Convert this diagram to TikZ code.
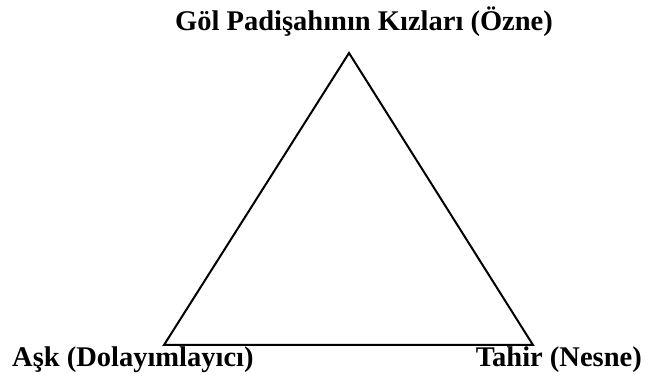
\documentclass[tikz,border=0pt]{standalone}
\usepackage{fontspec}
\setmainfont{Liberation Serif}
\begin{document}
\begin{tikzpicture}[x=1pt,y=1pt,
  lbl/.style={font=\bfseries\fontsize{28.5}{30}\selectfont, inner sep=0pt},
  edge/.style={line width=2pt, line join=miter}]
\useasboundingbox (0,0) rectangle (646,390);
\coordinate (top) at (349,337);
\coordinate (left) at (164,45);
\coordinate (right) at (533,45);
\draw[edge] (top) -- (left) -- (right) -- cycle;
\node[lbl, anchor=base] (t1) at (364,359) {Göl Padişahının Kızları (Özne)};
\node[lbl, anchor=base west] (t2) at (12,23) {Aşk (Dolayımlayıcı)};
\node[lbl, anchor=base east] (t3) at (642,23) {Tahir (Nesne)};
\end{tikzpicture}
\end{document}
